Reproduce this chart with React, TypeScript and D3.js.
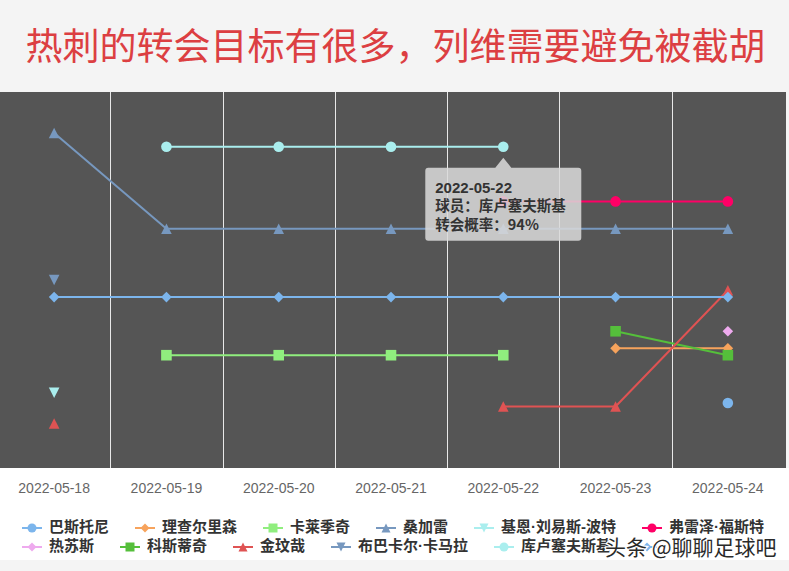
import React from "react";
import * as d3 from "d3";

// categories (x axis)
const dates = ["2022-05-18", "2022-05-19", "2022-05-20", "2022-05-21", "2022-05-22", "2022-05-23", "2022-05-24"];

// transfer probability (%) per player, null = no report that day
const bastoni = [null, null, null, null, null, null, 19];
const richarlison = [null, null, null, null, null, 35, 35];
const kalajdzic = [null, 33, 33, 33, 33, null, null];
const sangare = [98, 70, 70, 70, 70, 70, 70];
const lewisPotter = [22, null, null, null, null, null, null];
const fraserForster = [null, null, null, null, 78, 78, 78];
const jesus = [null, null, null, null, null, null, 40];
const kostic = [null, null, null, null, null, 40, 33];
const kimMinjae = [13, null, null, null, 18, 18, 52];
const kamara = [55, null, null, null, null, null, null];
const kulusevski = [null, 94, 94, 94, 94, null, null];
const hiddenPlayer = [50, 50, 50, 50, 50, 50, 50]; // name covered by the watermark

const seriesNames = ["巴斯托尼", "理查尔里森", "卡莱季奇", "桑加雷", "基恩·刘易斯-波特", "弗雷泽·福斯特",
  "热苏斯", "科斯蒂奇", "金玟哉", "布巴卡尔·卡马拉", "库卢塞夫斯基", ""];
const seriesValues = [bastoni, richarlison, kalajdzic, sangare, lewisPotter, fraserForster,
  jesus, kostic, kimMinjae, kamara, kulusevski, hiddenPlayer];

const colors = ["#7cb5ec", "#f7a35c", "#90ee7e", "#7798BF", "#aaeeee", "#ff0066",
  "#eeaaee", "#55BF3B", "#DF5353", "#7798BF", "#aaeeee"];
const symbols = ["circle", "diamond", "square", "triangle", "triangle-down"];

const title = "热刺的转会目标有很多，列维需要避免被截胡";
const watermark = "头条 @聊聊足球吧";
const hover = { series: 10, index: 4 }; // tooltip shown on 库卢塞夫斯基 @ 2022-05-22

const W = 789;
const H = 571;
const plotTop = 92;
const plotBottom = 468;
const plotRight = 786;

function markerPath(type: string, r: number) {
  switch (type) {
    case "circle":
      return `M${-r},0A${r},${r} 0 1,0 ${r},0A${r},${r} 0 1,0 ${-r},0Z`;
    case "square":
      return `M${-r},${-r}H${r}V${r}H${-r}Z`;
    case "diamond":
      return `M0,${-r}L${r},0L0,${r}L${-r},0Z`;
    case "triangle":
      return `M0,${-r}L${r},${r}L${-r},${r}Z`;
    default:
      return `M${-r},${-r}L${r},${-r}L0,${r}Z`;
  }
}

const legendFamily = "'Liberation Sans', 'Noto Sans CJK SC', sans-serif";
const legendSize = 15;
function textWidth(s: string) {
  const ctx = document.createElement("canvas").getContext("2d");
  if (!ctx) return s.length * legendSize;
  ctx.font = `bold ${legendSize}px ${legendFamily}`;
  return ctx.measureText(s).width;
}

export default function App() {
  const x = d3.scaleBand<string>().domain(dates).range([-2, 784]);
  const y = d3.scaleLinear().domain([0, 110]).range([plotBottom, plotTop]);
  const cx = (d: string) => (x(d) ?? 0) + x.bandwidth() / 2;

  const line = d3.line<number | null>()
    .defined(d => d != null)
    .x((_, i) => cx(dates[i]))
    .y(d => y(d as number));

  // legend flow layout
  const legendItems: { i: number; x: number; row: number }[] = [];
  let lx = 22, row = 0;
  seriesNames.forEach((name, i) => {
    const w = 20 + 7 + textWidth(name);
    if (lx + w > W - 8) { row += 1; lx = 22; }
    legendItems.push({ i, x: lx, row });
    lx += w + 26;
  });

  const hx = cx(dates[hover.index]);
  const hy = y(seriesValues[hover.series][hover.index] as number);
  const tipW = 156, tipH = 73, tipTop = hy + 21;
  const tl = hx - tipW / 2, tr = hx + tipW / 2, tb = tipTop + tipH;

  return (
    <svg width={W} height={H} viewBox={`0 0 ${W} ${H}`}
      style={{ position: "absolute", left: 0, top: 0, fontFamily: "'Noto Sans CJK SC', sans-serif" }}>
      <rect width={W} height={H} fill="#f4f4f4" />
      <rect y={plotBottom} width={W} height={560 - plotBottom} fill="#ffffff" />
      <rect x={0} y={plotTop} width={plotRight} height={plotBottom - plotTop} fill="#555555" />

      <text x={W / 2 + 1} y={50} textAnchor="middle" dominantBaseline="middle" fontSize={37} fill="#dc3f42">{title}</text>

      {/* vertical grid lines between categories */}
      {dates.slice(1).map(d => (
        <line key={d} x1={Math.round(x(d) ?? 0) + 0.5} x2={Math.round(x(d) ?? 0) + 0.5}
          y1={plotTop} y2={plotBottom} stroke="#e8e8e8" strokeWidth={1} />
      ))}

      {/* x axis labels */}
      {dates.map(d => (
        <text key={d} x={cx(d)} y={489} textAnchor="middle" dominantBaseline="middle"
          fontFamily="'Liberation Sans', Arial, sans-serif" fontSize={14} fill="#666666">{d}</text>
      ))}

      {/* series */}
      {seriesValues.map((vals, si) => {
        const color = colors[si % colors.length];
        const sym = symbols[si % symbols.length];
        return (
          <g key={si}>
            <path d={line(vals) ?? ""} fill="none" stroke={color} strokeWidth={2} strokeLinejoin="round" />
            {vals.map((v, i) => v == null ? null : (
              <path key={i} d={markerPath(sym, 5.3)} transform={`translate(${cx(dates[i])},${y(v)})`} fill={color} />
            ))}
          </g>
        );
      })}

      {/* tooltip */}
      <g>
        <path d={`M${tl + 3},${tipTop}H${hx - 8}L${hx},${tipTop - 10}L${hx + 8},${tipTop}H${tr - 3}
          Q${tr},${tipTop} ${tr},${tipTop + 3}V${tb - 3}Q${tr},${tb} ${tr - 3},${tb}H${tl + 3}
          Q${tl},${tb} ${tl},${tb - 3}V${tipTop + 3}Q${tl},${tipTop} ${tl + 3},${tipTop}Z`}
          fill="rgba(218,218,218,0.86)" />
        <text fontSize={14.5} fontWeight="bold" fill="#333333">
          <tspan x={tl + 10} y={tipTop + 25} fontFamily="'Liberation Sans', Arial, sans-serif" fontSize={15}>{dates[hover.index]}</tspan>
          <tspan x={tl + 10} y={tipTop + 43}>球员：{seriesNames[hover.series]}</tspan>
          <tspan x={tl + 10} y={tipTop + 62}>转会概率：{seriesValues[hover.series][hover.index]}%</tspan>
        </text>
      </g>

      {/* legend */}
      {legendItems.map(({ i, x: ix, row: r }) => {
        const cy = 528 + r * 19;
        const color = colors[i % colors.length];
        return (
          <g key={i} transform={`translate(${ix},${cy})`}>
            <line x1={0} x2={20} y1={0} y2={0} stroke={color} strokeWidth={2} />
            <path d={markerPath(symbols[i % symbols.length], 4.5)} transform="translate(10,0)" fill={color} />
            <text x={27} y={0} dominantBaseline="middle" fontFamily={legendFamily} fontSize={legendSize}
              fontWeight="bold" fill="#333333">{seriesNames[i]}</text>
          </g>
        );
      })}

      {/* watermark */}
      <text x={605} y={549} dominantBaseline="middle" fontSize={21} fill="#2a2a2a" stroke="#ffffff"
        strokeWidth={2.5} paintOrder="stroke">{watermark}</text>
    </svg>
  );
}
